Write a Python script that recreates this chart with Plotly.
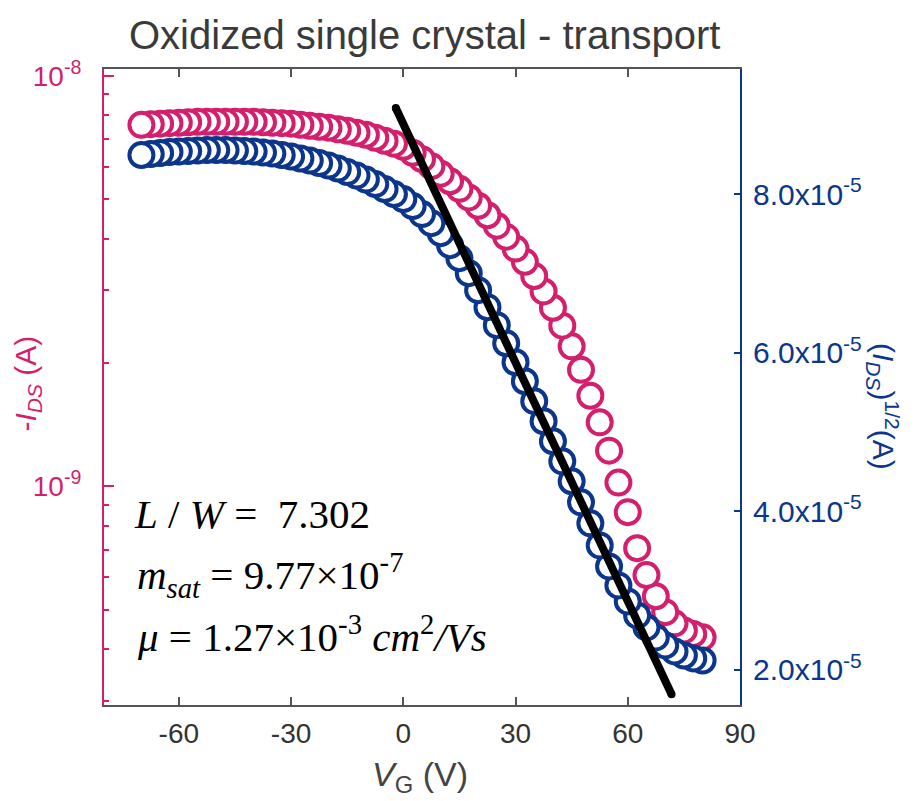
import plotly.graph_objects as go

# ---------------- data ----------------
vg = [-70, -67.5, -65, -62.5, -60, -57.5, -55, -52.5, -50, -47.5,
      -45, -42.5, -40, -37.5, -35, -32.5, -30, -27.5, -25, -22.5,
      -20, -17.5, -15, -12.5, -10, -7.5, -5, -2.5, 0, 2.5,
      5, 7.5, 10, 12.5, 15, 17.5, 20, 22.5, 25, 27.5,
      30, 32.5, 35, 37.5, 40, 42.5, 45, 47.5, 50, 52.5,
      55, 57.5, 60, 62.5, 65, 67.5, 70, 72.5, 75, 77.5, 80]

# -I_DS in nA (left, log axis)
neg_ids_nA = [7.59, 7.62, 7.64, 7.66, 7.68, 7.70, 7.72, 7.72, 7.72, 7.72,
              7.72, 7.72, 7.72, 7.70, 7.68, 7.66, 7.64, 7.59, 7.55, 7.51,
              7.47, 7.40, 7.34, 7.26, 7.18, 7.06, 6.94, 6.83, 6.71, 6.49,
              6.26, 6.02, 5.77, 5.53, 5.30, 5.05, 4.82, 4.57, 4.31, 4.05,
              3.79, 3.52, 3.25, 2.98, 2.72, 2.46, 2.19, 1.92, 1.66, 1.43,
              1.22, 1.02, 0.864, 0.706, 0.607, 0.539, 0.493, 0.463, 0.445, 0.436, 0.428]

# (I_DS)^1/2 in units of 1e-5 A^1/2 (right, linear axis)
sqrt_ids_e5 = [8.497, 8.509, 8.522, 8.535, 8.541, 8.547, 8.553, 8.560, 8.560, 8.560,
               8.553, 8.547, 8.541, 8.528, 8.515, 8.497, 8.478, 8.453, 8.427, 8.395,
               8.364, 8.326, 8.282, 8.237, 8.187, 8.130, 8.067, 8.004, 7.941, 7.852,
               7.751, 7.637, 7.511, 7.359, 7.195, 7.006, 6.791, 6.576, 6.349, 6.121,
               5.881, 5.641, 5.389, 5.136, 4.883, 4.630, 4.378, 4.112, 3.847, 3.569,
               3.304, 3.064, 2.862, 2.685, 2.533, 2.407, 2.306, 2.230, 2.179, 2.142, 2.116]

# linear saturation fit (end points)
fit_vg = [-2.0, 71.7]
fit_sqrt = [9.09e-5, 1.69e-5]

x_ticks = [-60, -30, 0, 30, 60, 90]
x_ticktext = ["-60", "-30", "0", "30", "60", "90"]
left_major = [1e-9, 1e-8]
left_major_text = ["10<sup>-9</sup>", "10<sup>-8</sup>"]
left_minor = [3e-10, 4e-10, 5e-10, 6e-10, 7e-10, 8e-10, 9e-10,
              2e-9, 3e-9, 4e-9, 5e-9, 6e-9, 7e-9, 8e-9, 9e-9]
right_ticks = [2e-5, 4e-5, 6e-5, 8e-5]
right_text = ["2.0x10<sup>-5</sup>", "4.0x10<sup>-5</sup>",
              "6.0x10<sup>-5</sup>", "8.0x10<sup>-5</sup>"]

PINK = "#D41F6C"
BLUE = "#0B368C"
GRAY = "#555555"
SANS = "Arial, Liberation Sans, sans-serif"
SERIF = "Times New Roman, Liberation Serif, serif"

ids = [v * 1e-9 for v in neg_ids_nA]
sq = [v * 1e-5 for v in sqrt_ids_e5]

fig = go.Figure()

# draw from high VG to low VG so the low-VG circles sit on top
fig.add_trace(go.Scatter(
    x=vg[::-1], y=ids[::-1], mode="markers", yaxis="y",
    marker=dict(symbol="circle", size=24, color="white",
                line=dict(color=PINK, width=4)),
    showlegend=False))
fig.add_trace(go.Scatter(
    x=vg[::-1], y=sq[::-1], mode="markers", yaxis="y2",
    marker=dict(symbol="circle", size=24, color="white",
                line=dict(color=BLUE, width=4)),
    showlegend=False))
fig.add_trace(go.Scatter(
    x=fit_vg, y=fit_sqrt, mode="lines+markers", yaxis="y2",
    line=dict(color="black", width=8),
    marker=dict(color="black", size=8, line=dict(width=0)),
    showlegend=False))

fig.update_layout(
    width=911, height=793,
    margin=dict(l=96, r=179, t=61, b=96),
    paper_bgcolor="white", plot_bgcolor="white",
    font=dict(family=SANS),
    xaxis=dict(range=[-80, 90], tickvals=x_ticks, ticktext=x_ticktext,
               ticks="inside", ticklen=8,
               tickwidth=2, tickcolor=GRAY, showline=True, linecolor=GRAY,
               linewidth=2, mirror="ticks", showgrid=False, zeroline=False,
               tickfont=dict(size=28, color="#333333", family=SANS),
               ticklabelstandoff=2),
    yaxis=dict(type="log", range=[-9.5334, -7.9837], tickvals=left_major,
               ticktext=left_major_text, ticks="inside", ticklen=10,
               tickwidth=2, tickcolor=PINK, showline=True, linecolor=PINK,
               linewidth=2, showgrid=False, zeroline=False,
               tickfont=dict(size=28, color=PINK, family=SANS),
               ticklabelstandoff=15,
               minor=dict(tickvals=left_minor, ticks="inside", ticklen=5,
                          tickwidth=2, tickcolor=PINK, showgrid=False)),
    yaxis2=dict(overlaying="y", side="right", range=[1.554e-5, 9.583e-5],
                tickvals=right_ticks, ticktext=right_text, ticks="inside",
                ticklen=6, tickwidth=2, tickcolor=BLUE, showline=True,
                linecolor=BLUE, linewidth=2, showgrid=False, zeroline=False,
                tickfont=dict(size=30, color=BLUE, family=SANS),
                ticklabelstandoff=5),
)

annotations = [
    dict(text="Oxidized single crystal - transport", x=0.5047, y=1.0535,
         xref="paper", yref="paper", xanchor="center", yanchor="middle",
         showarrow=False, font=dict(size=40, color="#3a3a3a", family=SANS)),
    dict(text="<i>V</i><sub>G</sub> (V)", x=0.497, y=-0.113,
         xref="paper", yref="paper", xanchor="center", yanchor="middle",
         showarrow=False, font=dict(size=34, color="#444444", family=SANS)),
    dict(text="-<i>I</i><sub><i>DS</i></sub> (A)", x=-0.12, y=0.505,
         xref="paper", yref="paper", xanchor="center", yanchor="middle",
         textangle=-90, showarrow=False,
         font=dict(size=30, color=PINK, family=SANS)),
    dict(text="(<i>I</i><sub><i>DS</i></sub>)<sup>1/2</sup>(A)", x=1.225, y=0.47,
         xref="paper", yref="paper", xanchor="center", yanchor="middle",
         textangle=90, showarrow=False,
         font=dict(size=30, color=BLUE, family=SANS)),
    dict(text="<i>L</i> / <i>W</i> =  7.302", x=0.044, y=0.30,
         xref="paper", yref="paper", xanchor="left", yanchor="middle",
         showarrow=False, font=dict(size=41, color="black", family=SERIF)),
    dict(text="<i>m</i><sub><i>sat</i></sub> = 9.77×10<sup>-7</sup>", x=0.048, y=0.205,
         xref="paper", yref="paper", xanchor="left", yanchor="middle",
         showarrow=False, font=dict(size=41, color="black", family=SERIF)),
    dict(text="<i>μ</i> = 1.27×10<sup>-3</sup> <i>cm</i><sup>2</sup><i>/Vs</i>", x=0.048, y=0.111,
         xref="paper", yref="paper", xanchor="left", yanchor="middle",
         showarrow=False, font=dict(size=41, color="black", family=SERIF)),
]
fig.update_layout(annotations=annotations)

fig.write_html("out.html")
